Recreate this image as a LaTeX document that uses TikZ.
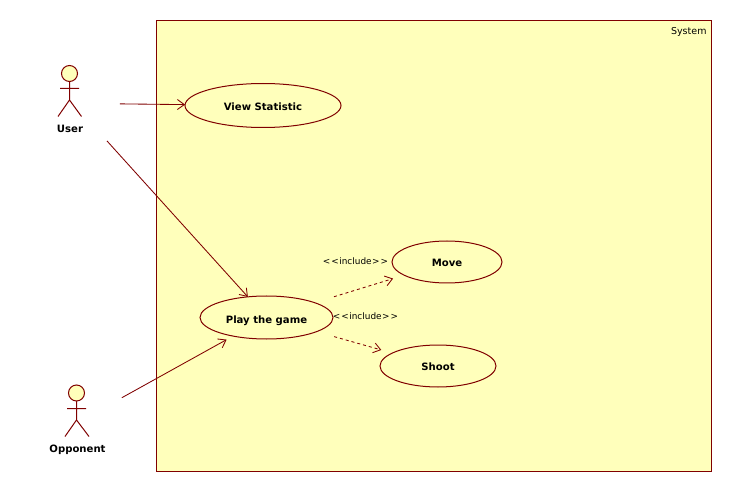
\documentclass[tikz,border=0pt]{standalone}
\usepackage{fontspec}
\setmainfont{DejaVu Sans}
\usetikzlibrary{shapes.geometric,arrows.meta}
\definecolor{umlline}{RGB}{128,0,0}
\definecolor{umlfill}{RGB}{255,255,187}
\newcommand{\inclabel}{\fontsize{8.9}{12}\selectfont <\kern1pt<\kern0.5pt include\kern0.5pt>\kern1pt>}
\newcommand{\basetext}[2]{\raisebox{-#1pt}[0pt][0pt]{#2}}
\tikzset{
  x=1pt,y=-1pt,
  every node/.style={inner sep=0pt,outer sep=0pt,text=black},
  ln/.style={draw=umlline,line width=1pt},
  sysbox/.style={ln,fill=umlfill,rectangle,anchor=north west,minimum width=555pt,minimum height=451pt},
  usecase/.style={ln,fill=umlfill,ellipse,font=\fontsize{10.1}{12}\selectfont\bfseries},
  actorname/.style={font=\fontsize{10.1}{12}\selectfont\bfseries},
  plain/.style={font=\fontsize{9.5}{12}\selectfont},
  assoc/.style={draw=umlline,line width=0.85pt,-{Straight Barb[length=7pt,width=10pt,line width=0.85pt]}},
  incl/.style={assoc,dash pattern=on 3pt off 3pt},
  stick/.style={ln},
  head/.style={ln,fill=umlfill,circle,minimum size=16pt}
}
\begin{document}
\begin{tikzpicture}
\useasboundingbox (0,0) rectangle (732,492);
\fill[white] (0,0) rectangle (732,492);
\node[sysbox] (sys) at (156.5,20.5) {};
\node[plain,anchor=east] (systxt) at (706.5,31.5) {System};
\node[usecase,minimum width=156pt,minimum height=44pt] (view) at (263,105.5) {\basetext{5.5}{View Statistic}};
\node[usecase,minimum width=133pt,minimum height=43pt] (play) at (266.5,317.5) {\basetext{5.8}{Play the game}};
\node[usecase,minimum width=110pt,minimum height=42pt] (move) at (447,262) {\basetext{4.7}{Move}};
\node[usecase,minimum width=116pt,minimum height=42pt] (shoot) at (438,366) {\basetext{5}{Shoot}};
% actor: user
\node[head] (uhead) at (69.5,73.5) {};
\draw[stick] (uhead.south) -- (69.5,100) (60,88.5) -- (79,88.5) (58,116.5) -- (69.5,100) -- (81.5,116.5);
\node[actorname] (user) at (70,129) {User};
\coordinate (userc) at (70,100);
\coordinate (userr) at (70,103.3);
% actor: opponent
\node[head] (ohead) at (76.5,393) {};
\draw[stick] (ohead.south) -- (76.5,420) (67,408.5) -- (86,408.5) (65,436.5) -- (76.5,420) -- (89,436.5);
\node[actorname] (opp) at (77.5,449.5) {Opponent};
\coordinate (oppc) at (77,422.6);
% connectors
\draw[assoc,shorten <=50pt] (userr) -- (view);
\draw[assoc,shorten <=55.2pt] (userc) -- (play);
\draw[assoc,shorten <=51.3pt,shorten >=7.3pt] (oppc) -- (play);
\draw[incl,shorten <=20.2pt,shorten >=11.6pt] (play) -- (move);
\draw[incl,shorten <=18.3pt,shorten >=11.4pt] (play) -- (shoot);
\node[plain] (lab1) at (355.5,261) {\inclabel};
\node[plain] (lab2) at (365.5,316) {\inclabel};
\end{tikzpicture}
\end{document}
